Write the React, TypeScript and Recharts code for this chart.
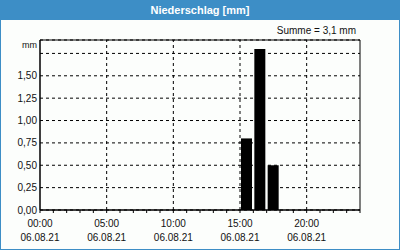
import { BarChart, Bar, XAxis, YAxis, CartesianGrid, ReferenceLine, ReferenceArea } from 'recharts'

const HOURS = [0, 1, 2, 3, 4, 5, 6, 7, 8, 9, 10, 11, 12, 13, 14, 15, 16, 17, 18, 19, 20, 21, 22, 23]
const PRECIP = [0, 0, 0, 0, 0, 0, 0, 0, 0, 0, 0, 0, 0, 0, 0, 0.8, 1.8, 0.5, 0, 0, 0, 0, 0, 0]
const HOUR_TICKS = [0, 1, 2, 3, 4, 5, 6, 7, 8, 9, 10, 11, 12, 13, 14, 15, 16, 17, 18, 19, 20, 21, 22, 23, 24]
const MAJOR_HOURS = [5, 10, 15, 20]
const Y_TICKS = [0, 0.25, 0.5, 0.75, 1, 1.25, 1.5, 1.75]
const Y_MAX = 1.9
const DATE_LABEL = '06.08.21'
const TITLE = 'Niederschlag [mm]'
const SUM_LABEL = 'Summe = 3,1 mm'

const data = HOURS.map((h, i) => ({ hour: h, label: String(h), mm: PRECIP[i] }))

const FONT = '"Liberation Sans", Arial, sans-serif'
const BLUE = '#3d8ec6'

function HourTick(props: any) {
  const { x, y, payload } = props
  const v = payload.value
  if (v % 5 !== 0 || v === 24) return null
  const hh = String(v).padStart(2, '0') + ':00'
  return (
    <g>
      <text x={x} y={y + 12} textAnchor='middle' fontSize={10} fill='#111' fontFamily={FONT}>{hh}</text>
      <text x={x} y={y + 26} textAnchor='middle' fontSize={10} fill='#111' fontFamily={FONT}>{DATE_LABEL}</text>
    </g>
  )
}

// top tick has no number, the unit sits above it
const fmtY = (v: number) => (v === Y_TICKS[Y_TICKS.length - 1] ? '' : v.toFixed(2).replace('.', ','))

export default function App() {
  return (
    <div style={{ position:'absolute', left:0, top:0, width:400, height:250, background:'#fcfefc',
      fontFamily:FONT, overflow:'hidden' }}>
      <div style={{ position:'absolute', left:0, top:0, width:400, height:20, background:BLUE,
        color:'#fff', fontWeight:'bold', fontSize:11, lineHeight:'20px', textAlign:'center' }}>
        {TITLE}
      </div>
      <div style={{ position:'absolute', right:44, top:25, fontSize:10, color:'#111' }}>{SUM_LABEL}</div>
      <div style={{ position:'absolute', right:363, top:40, fontSize:9, color:'#111' }}>mm</div>
      <div style={{ position:'absolute', left:0, top:20 }}>
        <BarChart width={400} height={230} data={data} barSize={11}
          margin={{ top:20, right:40, left:0, bottom:0 }}>
          <CartesianGrid xAxisId='time' vertical={false} stroke='#000' strokeDasharray='3 3' />
          <XAxis xAxisId='cat' dataKey='label' type='category' hide height={0} />
          <XAxis xAxisId='time' dataKey='hour' type='number' domain={[0, 24]} ticks={HOUR_TICKS}
            interval={0} height={40} axisLine={{ stroke:'#000' }} tickLine={{ stroke:'#000' }}
            tickSize={3} tick={<HourTick />} />
          <YAxis domain={[0, Y_MAX]} ticks={Y_TICKS} width={40} axisLine={{ stroke:'#000' }}
            tickLine={false} tickSize={0} tickMargin={3} interval={0}
            tickFormatter={fmtY}
            tick={{ fontSize:10, fill:'#111', fontFamily:FONT }} />
          {MAJOR_HOURS.map(h => (
            <ReferenceLine key={h} xAxisId='time' x={h} stroke='#000' strokeDasharray='3 3' />
          ))}
          <Bar xAxisId='cat' dataKey='mm' fill='#000' isAnimationActive={false} />
          <ReferenceArea xAxisId='time' x1={0} x2={24} y1={0} y2={Y_MAX} fill='none' stroke='#000'
            fillOpacity={0} strokeWidth={1} />
        </BarChart>
      </div>
      <div style={{ position:'absolute', left:0, top:0, width:400, height:250, boxSizing:'border-box',
        border:`1px solid ${BLUE}`, pointerEvents:'none' }} />
    </div>
  )
}
